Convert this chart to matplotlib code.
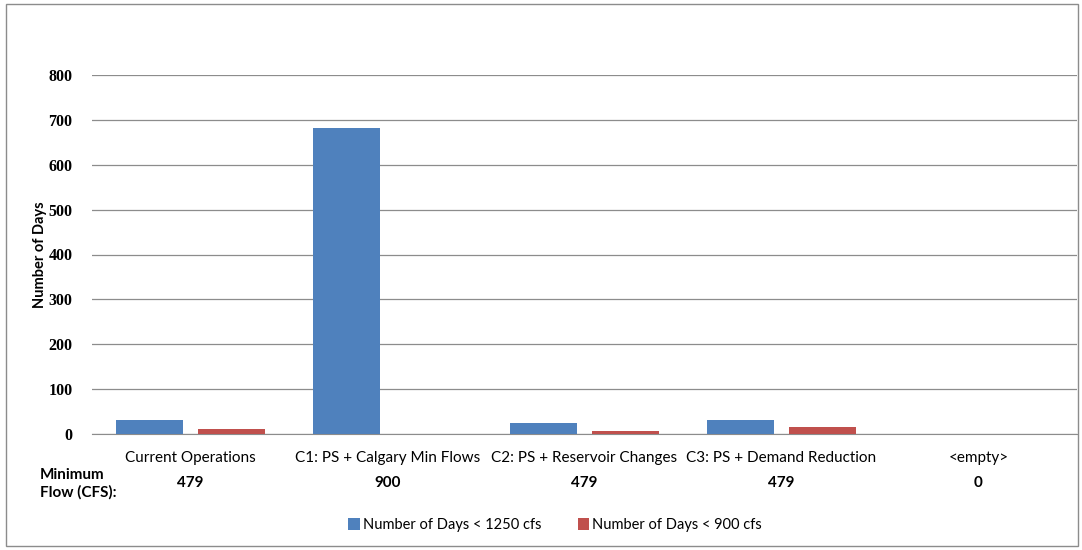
import matplotlib.pyplot as plt
from matplotlib.patches import Rectangle
import numpy as np

categories = ["Current Operations", "C1: PS + Calgary Min Flows",
              "C2: PS + Reservoir Changes", "C3: PS + Demand Reduction", "<empty>"]
days_below_1250 = [31, 682, 24, 31, 0]
days_below_900 = [11, 0, 7, 15, 0]
min_flow = ["479", "900", "479", "479", "0"]
series_names = ["Number of Days < 1250 cfs", "Number of Days < 900 cfs"]
yticks = [0, 100, 200, 300, 400, 500, 600, 700, 800]

W, H = 1082, 550
fig = plt.figure(figsize=(W / 100, H / 100), dpi=100)
ax = fig.add_axes([92 / W, 1 - 434 / H, (1077 - 92) / W, (434 - 75) / H])

sans = ["Lato", "DejaVu Sans"]
serif = ["Liberation Serif", "DejaVu Serif"]

x = np.arange(len(categories))
bw = 0.34
blue = "#4F81BD"
red = "#C0504D"
ax.bar(x - bw / 2 - 0.04, days_below_1250, width=bw, color=blue, label=series_names[0], zorder=3)
ax.bar(x + bw / 2 + 0.04, days_below_900, width=bw, color=red, label=series_names[1], zorder=3)

ax.set_xlim(-0.5, len(categories) - 0.5)
ax.set_ylim(0, 800)
ax.set_yticks(yticks)
ax.set_yticklabels([str(t) for t in yticks], fontfamily=serif, fontsize=11.5, fontweight="bold")
ax.grid(axis="y", color="#8C8C8C", linewidth=0.9, zorder=0)
ax.tick_params(axis="y", length=0, pad=14)
ax.set_xticks(x)
ax.set_xticklabels(categories, fontfamily=sans, fontsize=11)
ax.tick_params(axis="x", length=0, pad=12)
for s in ["top", "right", "left"]:
    ax.spines[s].set_visible(False)
ax.spines["bottom"].set_color("#8C8C8C")

ax.set_ylabel("Number of Days", fontfamily=sans, fontsize=10.5, fontweight="bold", labelpad=1)

# minimum flow row under the category labels
for xi, v in zip(x, min_flow):
    ax.text(xi, -110, v, ha="center", va="center", fontfamily=sans,
            fontsize=11, fontweight="bold")
fig.text(40 / W, 1 - 484 / H, "Minimum\nFlow (CFS):", ha="left", va="center",
         fontfamily=sans, fontsize=11, fontweight="bold", linespacing=1.3)

fig.legend(loc="center", bbox_to_anchor=(555 / W, 1 - 525 / H), ncol=2, frameon=False,
           prop={"family": sans, "size": 10.5}, handlelength=0.8, handleheight=0.8,
           handletextpad=0.2, columnspacing=2.5)

fig.patches.append(Rectangle((6 / W, 4 / H), (W - 10) / W, (H - 8) / H, transform=fig.transFigure,
                             fill=False, edgecolor="#8C8C8C", linewidth=1))

fig.savefig("out.png", dpi=100)
